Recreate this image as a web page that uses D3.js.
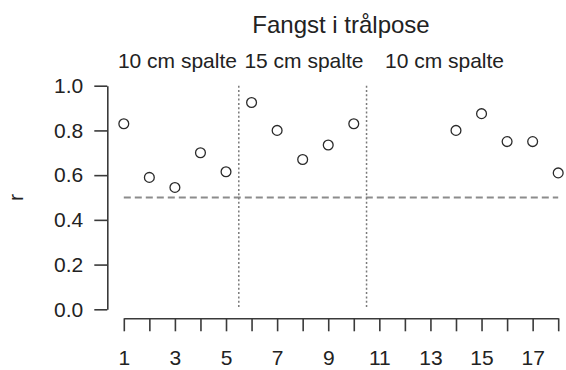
<!DOCTYPE html>
<html>
<head>
<meta charset="utf-8">
<script src="https://cdn.jsdelivr.net/npm/d3@7"></script>
<style>
  html, body { margin: 0; padding: 0; background: #fff; }
  svg { display: block; font-family: "Liberation Sans", Arial, Helvetica, sans-serif; }
</style>
</head>
<body>
<svg id="chart" width="566" height="370"></svg>
<script>
// ---- data ----
const hauls = [1, 2, 3, 4, 5, 6, 7, 8, 9, 10, 14, 15, 16, 17, 18];
const rValues = [0.83, 0.59, 0.545, 0.70, 0.615, 0.925, 0.80, 0.67, 0.735, 0.83, 0.80, 0.875, 0.75, 0.75, 0.61];
const xTicks = [1, 2, 3, 4, 5, 6, 7, 8, 9, 10, 11, 12, 13, 14, 15, 16, 17, 18];
const yTicks = [0, 0.2, 0.4, 0.6, 0.8, 1.0];
const groupLabels = ["10 cm spalte", "15 cm spalte", "10 cm spalte"];
const groupCenters = [3.1, 8.05, 13.55];
const separators = [5.5, 10.5];
const refLine = 0.5;
const title = "Fangst i trålpose";
const yLabel = "r";

// ---- layout ----
const svg = d3.select("#chart");
const x = d3.scaleLinear().domain([1, 18]).range([123.8, 558.2]);
const y = d3.scaleLinear().domain([0, 1]).range([309.3, 85.7]);
const axisColor = "#3a3a3a";
const xAxisY = 318.3;
const yAxisX = 107.3;

// title
svg.append("text")
  .attr("x", 341).attr("y", 33)
  .attr("text-anchor", "middle")
  .attr("font-size", 24)
  .attr("fill", "#222")
  .text(title);

// group labels
svg.selectAll("text.grp").data(groupLabels).join("text")
  .attr("class", "grp")
  .attr("x", (d, i) => x(groupCenters[i]))
  .attr("y", 68)
  .attr("text-anchor", "middle")
  .attr("font-size", 21)
  .attr("fill", "#222")
  .text(d => d);

// y label
svg.append("text")
  .attr("transform", `translate(23,197.5) rotate(-90)`)
  .attr("text-anchor", "middle")
  .attr("font-size", 21)
  .attr("fill", "#222")
  .text(yLabel);

// reference dashed line
svg.append("line")
  .attr("x1", x(1)).attr("x2", x(18))
  .attr("y1", y(refLine)).attr("y2", y(refLine))
  .attr("stroke", "#8c8c8c")
  .attr("stroke-width", 2.2)
  .attr("stroke-dasharray", "7,4");

// separators (dotted)
svg.selectAll("line.sep").data(separators).join("line")
  .attr("class", "sep")
  .attr("x1", d => x(d)).attr("x2", d => x(d))
  .attr("y1", y(1)).attr("y2", y(0))
  .attr("stroke", "#7a7a7a")
  .attr("stroke-width", 1.5)
  .attr("stroke-dasharray", "2,2.3");

// y axis
const yAxis = d3.axisLeft(y)
  .tickValues(yTicks)
  .tickSize(13)
  .tickSizeOuter(0)
  .tickPadding(11)
  .tickFormat(d3.format(".1f"));
const gy = svg.append("g").attr("transform", `translate(${yAxisX},0)`).call(yAxis);

// x axis
const xAxis = d3.axisBottom(x)
  .tickValues(xTicks)
  .tickSize(13)
  .tickSizeOuter(0)
  .tickPadding(18.5)
  .tickFormat(d => (d % 2 === 1 ? d : ""));
const gx = svg.append("g").attr("transform", `translate(0,${xAxisY})`).call(xAxis);

[gx, gy].forEach(g => {
  g.select(".domain").attr("stroke", axisColor).attr("stroke-width", 1.6);
  g.selectAll(".tick line").attr("stroke", axisColor).attr("stroke-width", 1.6);
  g.selectAll(".tick text")
    .attr("fill", "#222")
    .attr("font-size", 21)
    .attr("font-family", '"Liberation Sans", Arial, Helvetica, sans-serif');
});

// points
svg.selectAll("circle.pt").data(hauls).join("circle")
  .attr("class", "pt")
  .attr("cx", d => x(d))
  .attr("cy", (d, i) => y(rValues[i]))
  .attr("r", 4.9)
  .attr("fill", "none")
  .attr("stroke", "#2a2a2a")
  .attr("stroke-width", 1.3);
</script>
</body>
</html>
